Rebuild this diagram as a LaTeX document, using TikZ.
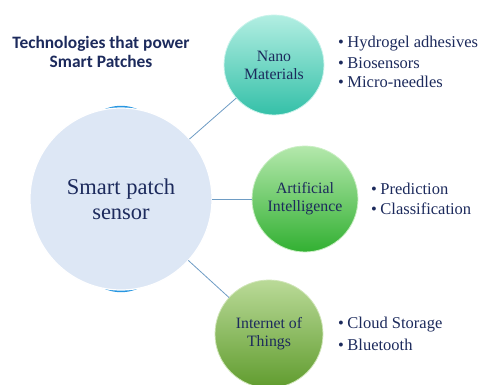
\documentclass[tikz,border=0pt]{standalone}
\usepackage{fontspec}
\setmainfont{Liberation Serif}
\newfontfamily\titlefont{Carlito}
\definecolor{navy}{RGB}{28,42,92}
\definecolor{linkblue}{RGB}{110,156,196}
\definecolor{palebg}{RGB}{221,231,245}
\definecolor{rimblue}{RGB}{40,150,225}
\definecolor{tealtop}{RGB}{178,238,226}
\definecolor{tealmid}{RGB}{84,210,188}
\definecolor{tealbot}{RGB}{52,192,168}
\definecolor{greentop}{RGB}{180,232,172}
\definecolor{greenmid}{RGB}{82,196,80}
\definecolor{greenbot}{RGB}{50,176,50}
\definecolor{olivetop}{RGB}{186,218,152}
\definecolor{olivemid}{RGB}{116,176,66}
\definecolor{olivebot}{RGB}{96,156,46}
\tikzset{
  bubble/.style={circle, inner sep=0pt, outer sep=0pt, minimum size=#1,
    align=center, text=navy, font=\fontsize{15.8}{18}\selectfont},
  link/.style={draw=linkblue, line width=0.8pt},
  item/.style={anchor=west, inner sep=0pt, text=navy,
    font=\fontsize{16.5}{19}\selectfont}
}
\begin{document}
\begin{tikzpicture}[x=1pt, y=-1pt]
  \useasboundingbox (0,0) rectangle (483,384);
  % title
  \node[align=center, text=navy, font=\titlefont\bfseries\fontsize{17.4}{19}\selectfont] (title) at (101,51.5)
    {Technologies that power\\Smart Patches};
  % hub
  \fill[rimblue] (121,199) ellipse (62 and 93.2);
  \node[bubble=182pt, fill=palebg, draw=white, line width=1.2pt,
    font=\fontsize{22.5}{25}\selectfont] (sensor) at (121,199) {Smart patch\\sensor};
  % technologies
  \node[bubble=100pt, top color=tealtop, middle color=tealmid, bottom color=tealbot,
    draw=tealtop!70!white, line width=0.8pt] (nano) at (274,65) {Nano\\Materials};
  \node[bubble=106pt, top color=greentop, middle color=greenmid, bottom color=greenbot,
    draw=greentop!70!white, line width=0.8pt] (ai) at (305,199) {Artificial\\Intelligence};
  \node[bubble=108pt, top color=olivetop, middle color=olivemid, bottom color=olivebot,
    draw=olivetop!70!white, line width=0.8pt] (iot) at (269,334) {Internet of\\Things};
  \draw[link] (sensor) -- (nano);
  \draw[link] (sensor) -- (ai);
  \draw[link] (sensor) -- (iot);
  % lists
  \foreach \t [count=\i] in {Hydrogel adhesives, Biosensors, Micro-needles}
    \node[item] (nano-\i) at (338,{44+19*(\i-1)}) {\textbullet\hspace{3.5pt}\t};
  \foreach \t [count=\i] in {Prediction, Classification}
    \node[item] (ai-\i) at (371,{189+20*(\i-1)}) {\textbullet\hspace{3.5pt}\t};
  \foreach \t [count=\i] in {Cloud Storage, Bluetooth}
    \node[item] (iot-\i) at (338,{325+20*(\i-1)}) {\textbullet\hspace{3.5pt}\t};
\end{tikzpicture}
\end{document}
